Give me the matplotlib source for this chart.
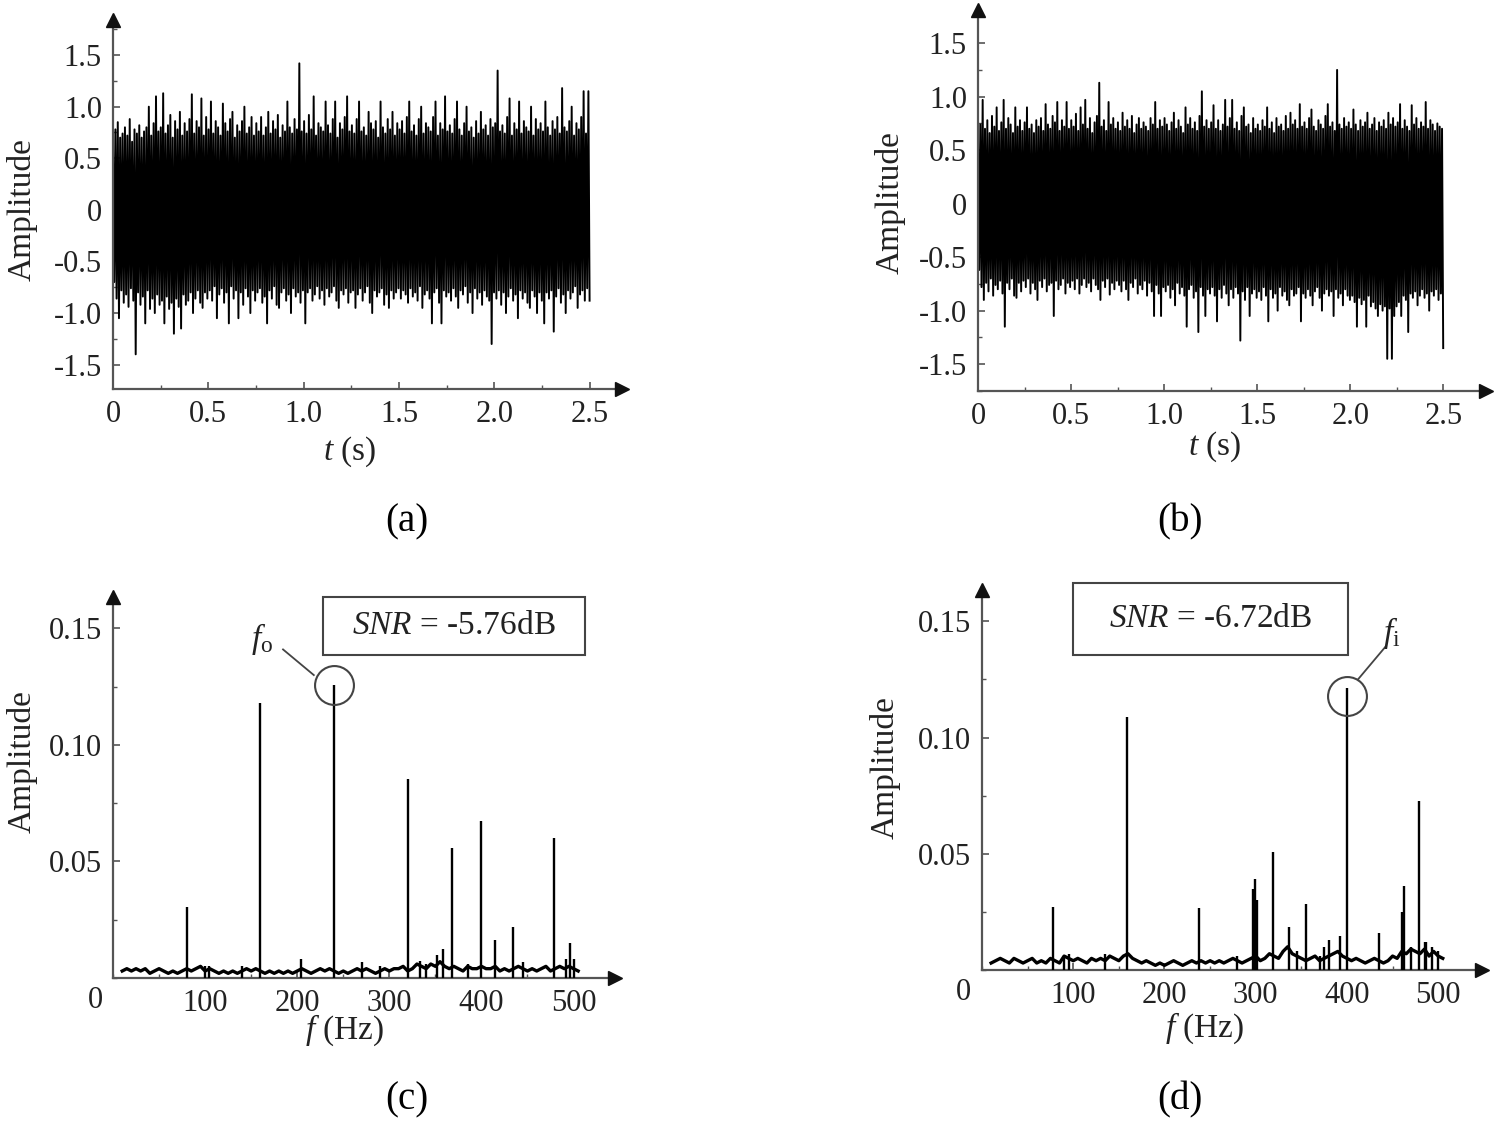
import numpy as np
import matplotlib
matplotlib.use("Agg")
import matplotlib.pyplot as plt
from matplotlib.ticker import FixedLocator, MultipleLocator
from matplotlib.patches import Rectangle

plt.rcParams['font.family'] = ['Liberation Serif', 'DejaVu Serif']
plt.rcParams['mathtext.fontset'] = 'custom'
plt.rcParams['mathtext.rm'] = 'Liberation Serif'
plt.rcParams['mathtext.it'] = 'Liberation Serif:italic'
plt.rcParams['axes.unicode_minus'] = False

# ---------------- data ----------------
# time-domain signal (a): upper and lower excursions per sample pair
sig_a_upper = [
    0.62, 0.78, 0.85, 0.70, 0.74, 0.80, 0.72, 0.88, 0.66, 0.78, 0.74, 0.82, 0.70, 0.76, 0.80, 1.00, 0.72, 0.84, 1.10, 0.76,
    0.80, 1.13, 0.74, 0.82, 0.92, 0.70, 0.86, 0.78, 0.95, 0.72, 0.84, 0.76, 0.88, 1.12, 0.74, 0.86, 0.80, 1.08, 0.72, 0.90,
    0.78, 1.05, 0.74, 0.86, 0.80, 0.72, 1.03, 0.84, 0.76, 0.88, 0.95, 0.70, 0.82, 0.76, 0.86, 1.00, 0.74, 0.80, 0.90, 0.72,
    0.84, 0.76, 0.90, 0.72, 0.80, 0.95, 0.74, 0.86, 0.78, 0.92, 0.70, 0.82, 0.76, 1.05, 0.80, 0.74, 0.88, 0.78, 1.42, 0.76,
    0.86, 0.74, 0.92, 0.78, 1.10, 0.72, 0.84, 0.80, 0.76, 1.05, 0.82, 0.74, 0.88, 1.05, 0.70, 0.84, 0.78, 0.90, 1.10, 0.76,
    0.82, 0.74, 0.88, 1.05, 0.76, 0.80, 0.72, 0.95, 0.84, 0.78, 0.86, 0.70, 1.05, 0.80, 0.74, 0.88, 0.78, 0.95, 0.72, 0.84,
    0.78, 0.86, 0.74, 0.90, 1.05, 0.76, 0.82, 0.72, 0.88, 1.00, 0.74, 0.84, 0.80, 0.76, 0.90, 1.05, 0.72, 0.84, 0.78, 1.10,
    0.76, 0.82, 0.74, 0.88, 1.05, 0.78, 0.72, 0.84, 1.00, 0.76, 0.80, 0.70, 0.86, 0.74, 0.95, 0.78, 0.82, 0.72, 0.88, 0.80,
    0.84, 1.35, 0.76, 0.82, 0.74, 0.90, 1.08, 0.72, 0.84, 0.78, 1.05, 0.74, 0.86, 0.80, 0.76, 1.00, 0.72, 0.88, 0.78, 0.84,
    0.76, 1.05, 0.80, 0.72, 0.86, 0.78, 0.90, 0.74, 1.18, 0.80, 0.76, 0.86, 1.00, 0.72, 0.84, 0.78, 0.90, 1.15, 0.74, 1.15,
]
sig_a_lower = [
    -0.70, -0.86, -1.05, -0.78, -0.90, -0.82, -0.94, -0.76, -0.88, -1.40, -0.80, -0.92, -0.84, -1.10, -0.78, -0.96, -0.86, -1.00, -0.82, -0.92,
    -0.88, -1.10, -0.84, -0.96, -0.90, -1.20, -0.86, -0.94, -1.15, -0.82, -0.92, -0.88, -0.80, -1.00, -0.86, -0.78, -0.90, -0.95, -0.80, -0.86,
    -0.78, -0.88, -0.74, -1.05, -0.82, -0.76, -0.90, -0.80, -1.10, -0.74, -0.86, -0.78, -1.05, -0.80, -0.92, -0.76, -0.84, -1.00, -0.78, -0.88,
    -0.80, -0.76, -0.90, -0.84, -1.10, -0.78, -0.86, -0.74, -0.92, -0.95, -0.80, -0.76, -0.88, -0.82, -1.00, -0.76, -0.84, -0.80, -0.90, -0.78,
    -1.10, -0.80, -0.76, -0.88, -0.82, -0.74, -0.86, -0.78, -0.92, -0.76, -0.84, -0.80, -0.74, -0.88, -0.95, -0.78, -0.82, -0.76, -0.90, -0.80,
    -0.78, -0.95, -0.82, -0.76, -0.88, -0.80, -0.74, -0.90, -1.00, -0.78, -0.84, -0.80, -0.76, -0.92, -0.82, -0.95, -0.78, -0.86, -0.80, -0.76,
    -0.86, -0.78, -0.82, -0.90, -0.76, -0.84, -0.80, -0.88, -0.74, -0.95, -0.82, -0.78, -0.86, -1.10, -0.80, -0.76, -0.90, -1.10, -0.78, -0.84,
    -0.80, -0.88, -0.76, -0.84, -0.95, -0.78, -0.82, -0.74, -0.90, -0.80, -1.00, -0.76, -0.86, -0.80, -0.92, -0.78, -0.84, -0.88, -1.30, -0.80,
    -0.86, -0.78, -0.92, -0.80, -1.00, -0.84, -0.76, -0.88, -0.82, -1.05, -0.78, -0.86, -0.80, -0.90, -0.95, -0.78, -0.84, -1.00, -0.80, -0.88,
    -1.10, -0.80, -0.86, -0.78, -1.18, -0.84, -0.76, -0.90, -0.82, -1.00, -0.78, -0.86, -0.80, -0.74, -0.95, -0.82, -0.78, -0.88, -0.76, -0.88,
]
# time-domain signal (b)
sig_b_upper = [
    0.62, 0.74, 0.97, 0.70, 0.78, 0.66, 0.82, 0.72, 0.90, 0.68, 0.76, 0.97, 0.70, 0.80, 0.74, 0.66, 0.90, 0.72, 0.78, 0.68,
    0.76, 0.90, 0.70, 0.74, 0.66, 0.78, 0.72, 0.80, 0.68, 0.93, 0.74, 0.70, 0.82, 0.76, 0.95, 0.68, 0.78, 0.72, 0.95, 0.70,
    0.78, 0.72, 0.84, 0.68, 0.90, 0.74, 0.97, 0.70, 0.80, 0.66, 0.76, 0.82, 1.13, 0.72, 0.78, 0.68, 0.95, 0.74, 0.80, 0.70,
    0.76, 0.68, 0.85, 0.72, 0.78, 0.70, 0.82, 0.66, 0.74, 0.80, 0.70, 0.76, 0.72, 0.68, 0.80, 0.74, 0.95, 0.70, 0.78, 0.72,
    0.80, 0.74, 0.68, 0.76, 0.85, 0.70, 0.78, 0.72, 0.66, 0.90, 0.74, 0.80, 0.70, 0.76, 0.68, 0.82, 1.05, 0.72, 0.78, 0.70,
    0.76, 0.92, 0.70, 0.78, 0.68, 0.74, 0.97, 0.72, 0.80, 0.97, 0.70, 0.76, 0.68, 0.82, 0.90, 0.72, 0.74, 0.66, 0.80, 0.70,
    0.74, 0.68, 0.78, 0.72, 0.90, 0.70, 0.76, 0.66, 0.80, 0.72, 0.74, 0.68, 0.82, 0.70, 0.85, 0.74, 0.78, 0.70, 0.93, 0.72,
    0.76, 0.70, 0.80, 0.88, 0.72, 0.68, 0.78, 0.74, 0.70, 0.82, 0.93, 0.72, 0.76, 0.68, 1.25, 0.74, 0.70, 0.80, 0.72, 0.76,
    0.70, 0.88, 0.74, 0.68, 0.78, 0.72, 0.76, 0.85, 0.70, 0.74, 0.80, 0.68, 0.76, 0.72, 0.78, 0.70, 0.85, 0.74, 0.80, 0.72,
    0.76, 0.93, 0.70, 0.78, 0.72, 0.68, 0.92, 0.74, 0.80, 0.70, 0.76, 0.72, 0.95, 0.70, 0.78, 0.74, 0.68, 0.75, 0.72, 0.70,
]
sig_b_lower = [
    -0.62, -0.78, -0.90, -0.74, -0.82, -0.70, -0.86, -0.76, -0.80, -0.72, -0.84, -1.15, -0.74, -0.80, -0.70, -0.86, -0.88, -0.74, -0.82, -0.72,
    -0.78, -0.70, -0.84, -0.74, -0.80, -0.90, -0.72, -0.78, -0.70, -0.82, -0.76, -0.74, -1.05, -0.72, -0.80, -0.76, -0.70, -0.84, -0.74, -0.78,
    -0.72, -0.80, -0.70, -0.84, -0.76, -0.70, -0.78, -0.74, -0.82, -0.70, -0.76, -0.80, -0.90, -0.72, -0.78, -0.70, -0.85, -0.74, -0.80, -0.72,
    -0.76, -0.82, -0.72, -0.80, -0.90, -0.74, -0.78, -0.70, -0.84, -0.76, -0.80, -0.72, -0.86, -0.74, -0.82, -1.05, -0.76, -0.84, -1.05, -0.78,
    -0.82, -0.76, -0.88, -0.80, -0.95, -0.74, -0.84, -0.78, -0.86, -1.15, -0.80, -0.76, -0.88, -0.82, -1.20, -0.78, -0.86, -1.05, -0.80, -0.84,
    -0.78, -0.86, -1.10, -0.80, -0.88, -0.76, -0.84, -0.95, -0.80, -0.88, -0.78, -0.84, -1.28, -0.82, -0.90, -0.78, -1.05, -0.84, -0.80, -0.88,
    -0.82, -0.90, -0.78, -0.86, -1.10, -0.80, -0.88, -0.84, -1.00, -0.78, -0.86, -0.82, -0.90, -0.95, -0.80, -0.86, -0.84, -0.78, -1.10, -0.84,
    -0.88, -0.80, -0.86, -0.95, -0.82, -0.78, -0.88, -1.00, -0.84, -0.80, -0.86, -0.82, -1.05, -0.80, -0.88, -0.84, -0.95, -0.80, -0.86, -0.90,
    -0.86, -0.92, -1.15, -0.88, -0.94, -0.90, -1.15, -0.86, -0.96, -0.92, -0.98, -1.05, -0.94, -1.00, -0.96, -1.45, -0.98, -1.45, -1.05, -0.96,
    -0.92, -1.05, -0.86, -0.90, -1.20, -0.84, -0.88, -0.82, -0.95, -0.86, -0.80, -0.88, -0.84, -1.00, -0.82, -0.86, -0.80, -0.90, -0.84, -1.35,
]

# spectrum (c): noise floor sampled every 5 Hz from 10 to 505 Hz
spec_c_base = [
    0.003, 0.004, 0.003, 0.004, 0.003, 0.004, 0.002, 0.003, 0.004, 0.003,
    0.002, 0.003, 0.002, 0.003, 0.004, 0.003, 0.004, 0.005, 0.003, 0.004,
    0.003, 0.002, 0.003, 0.002, 0.003, 0.002, 0.003, 0.004, 0.003, 0.004,
    0.003, 0.002, 0.003, 0.002, 0.003, 0.002, 0.003, 0.002, 0.003, 0.004,
    0.003, 0.002, 0.003, 0.004, 0.003, 0.004, 0.003, 0.002, 0.003, 0.002,
    0.003, 0.004, 0.003, 0.004, 0.003, 0.002, 0.003, 0.004, 0.003, 0.004,
    0.004, 0.005, 0.003, 0.004, 0.006, 0.005, 0.004, 0.006, 0.005, 0.007,
    0.005, 0.004, 0.005, 0.004, 0.003, 0.005, 0.004, 0.004, 0.005, 0.004,
    0.004, 0.005, 0.003, 0.004, 0.003, 0.004, 0.005, 0.004, 0.003, 0.004,
    0.003, 0.004, 0.005, 0.003, 0.004, 0.005, 0.004, 0.005, 0.004, 0.003,
]
peaks_c_freq = [80, 100, 104, 140, 160, 204, 240, 270, 290, 320, 333, 340, 352, 358,
                368, 385, 399, 415, 434, 445, 479, 492, 496, 500]
peaks_c_amp = [0.0306, 0.005, 0.005, 0.005, 0.118, 0.008, 0.1256, 0.007, 0.005, 0.0855,
               0.0075, 0.006, 0.010, 0.0124, 0.0556, 0.006, 0.0674, 0.0164, 0.0217, 0.007,
               0.060, 0.008, 0.0152, 0.008]

# spectrum (d)
spec_d_base = [
    0.003, 0.004, 0.005, 0.004, 0.003, 0.005, 0.004, 0.003, 0.004, 0.005,
    0.003, 0.004, 0.003, 0.005, 0.004, 0.003, 0.006, 0.005, 0.004, 0.005,
    0.004, 0.003, 0.005, 0.004, 0.005, 0.004, 0.006, 0.005, 0.004, 0.006,
    0.007, 0.005, 0.004, 0.003, 0.004, 0.003, 0.002, 0.003, 0.002, 0.003,
    0.004, 0.003, 0.002, 0.003, 0.004, 0.003, 0.004, 0.003, 0.004, 0.003,
    0.004, 0.003, 0.004, 0.005, 0.004, 0.003, 0.004, 0.005, 0.006, 0.004,
    0.005, 0.007, 0.006, 0.005, 0.008, 0.010, 0.007, 0.006, 0.005, 0.004,
    0.005, 0.006, 0.004, 0.005, 0.006, 0.007, 0.008, 0.006, 0.005, 0.004,
    0.005, 0.004, 0.003, 0.004, 0.005, 0.004, 0.003, 0.004, 0.006, 0.005,
    0.008, 0.007, 0.009, 0.008, 0.007, 0.009, 0.006, 0.008, 0.006, 0.005,
]
peaks_d_freq = [78, 90, 95, 135, 159, 238, 280, 297, 299, 301, 319, 336, 345, 355,
                370, 375, 380, 392, 400, 435, 460, 463, 470, 479, 485, 487, 493, 500]
peaks_d_amp = [0.0272, 0.006, 0.007, 0.007, 0.109, 0.0265, 0.006, 0.035, 0.039, 0.030,
               0.0507, 0.0186, 0.008, 0.0286, 0.006, 0.010, 0.0128, 0.0148, 0.1214,
               0.016, 0.025, 0.0362, 0.010, 0.0729, 0.012, 0.012, 0.010, 0.008]

t_ticks = [0, 0.5, 1.0, 1.5, 2.0, 2.5]
t_ticklabels = ['0', '0.5', '1.0', '1.5', '2.0', '2.5']
amp_ticks = [-1.5, -1.0, -0.5, 0, 0.5, 1.0, 1.5]
amp_ticklabels = ['-1.5', '-1.0', '-0.5', '0', '0.5', '1.0', '1.5']
f_ticks = [100, 200, 300, 400, 500]
f_ticklabels = ['100', '200', '300', '400', '500']
spec_ticks = [0.05, 0.10, 0.15]
spec_ticklabels = ['0.05', '0.10', '0.15']
snr_labels = ['-5.76dB', '-6.72dB']
panel_labels = ['(a)', '(b)', '(c)', '(d)']

# ---------------- figure ----------------
W, H = 1500, 1129
fig = plt.figure(figsize=(15, 11.29), dpi=100)
TXT = '#222222'
AX = '#555555'
FS = 22


def fx(px):
    return px / W


def fy(py):
    return 1 - py / H


def make_axes(l, r, t, b):
    return fig.add_axes([fx(l), fy(b), fx(r) - fx(l), fy(t) - fy(b)])


def style(ax):
    for s in ['top', 'right']:
        ax.spines[s].set_visible(False)
    for s in ['left', 'bottom']:
        ax.spines[s].set_color(AX)
        ax.spines[s].set_linewidth(1.6)
    ax.tick_params(which='both', direction='in', colors=AX, labelcolor=TXT,
                   labelsize=FS, top=False, right=False)
    ax.tick_params(which='major', length=5, width=1.2, pad=8)
    ax.tick_params(which='minor', length=3, width=1.0)
    ax.patch.set_alpha(0)
    ax.plot(1, 0, '>', color='#111111', ms=10, transform=ax.transAxes, clip_on=False, zorder=5)
    ax.plot(0, 1, '^', color='#111111', ms=10, transform=ax.transAxes, clip_on=False, zorder=5)


def time_panel(ax, upper, lower, xmax, ylim):
    n = len(upper)
    sig = np.empty(2 * n)
    sig[0::2] = upper
    sig[1::2] = lower
    t = np.linspace(0, 2.5, 2 * n)
    ax.plot(t, sig, color='black', lw=1.4)
    ax.set_xlim(0, xmax)
    ax.set_ylim(*ylim)
    ax.xaxis.set_major_locator(FixedLocator(t_ticks))
    ax.set_xticklabels(t_ticklabels)
    ax.xaxis.set_minor_locator(MultipleLocator(0.25))
    ax.yaxis.set_major_locator(FixedLocator(amp_ticks))
    ax.set_yticklabels(amp_ticklabels)
    ax.yaxis.set_minor_locator(MultipleLocator(0.25))
    style(ax)


def spec_panel(ax, base, pf, pa, xmax):
    fb = np.arange(10, 10 + 5 * len(base), 5)
    ax.plot(fb, base, color='black', lw=2.4, zorder=3)
    ax.vlines(pf, 0, pa, color='black', lw=1.7, zorder=3)
    ax.set_xlim(0, xmax)
    ax.set_ylim(0, 0.1635)
    ax.xaxis.set_major_locator(FixedLocator(f_ticks))
    ax.set_xticklabels(f_ticklabels)
    ax.xaxis.set_minor_locator(MultipleLocator(50))
    ax.yaxis.set_major_locator(FixedLocator(spec_ticks))
    ax.set_yticklabels(spec_ticklabels)
    ax.yaxis.set_minor_locator(MultipleLocator(0.025))
    style(ax)


ax_a = make_axes(113, 622, 20, 389)
time_panel(ax_a, sig_a_upper, sig_a_lower, 2.67, (-1.736, 1.84))
ax_b = make_axes(978, 1486, 10, 391)
time_panel(ax_b, sig_b_upper, sig_b_lower, 2.73, (-1.751, 1.81))
ax_c = make_axes(113, 615, 597, 978)
spec_panel(ax_c, spec_c_base, peaks_c_freq, peaks_c_amp, 545)
ax_d = make_axes(982, 1482, 590, 970)
spec_panel(ax_d, spec_d_base, peaks_d_freq, peaks_d_amp, 548)

# axis labels (figure coords)
for x, y in [(22, 210), (890, 203), (22, 762), (885, 768)]:
    fig.text(fx(x), fy(y), 'Amplitude', rotation=90, ha='center', va='center',
             fontsize=24, color=TXT)
for x, y in [(350, 452), (1215, 447)]:
    fig.text(fx(x), fy(y), '$t$ (s)', ha='center', va='center', fontsize=24, color=TXT)
for x, y in [(345, 1030), (1205, 1028)]:
    fig.text(fx(x), fy(y), '$f$ (Hz)', ha='center', va='center', fontsize=24, color=TXT)
for x, y in [(95, 1000), (963, 993)]:
    fig.text(fx(x), fy(y), '0', ha='center', va='center', fontsize=FS, color=TXT)

# panel labels
for (x, y), lab in zip([(407, 522), (1180, 522), (407, 1100), (1180, 1100)], panel_labels):
    fig.text(fx(x), fy(y), lab, ha='center', va='center', fontsize=28, color='black')

# SNR boxes
for (l, r, t, b), lab in zip([(323, 585, 597, 655), (1073, 1348, 583, 655)], snr_labels):
    fig.patches.append(Rectangle((fx(l), fy(b)), fx(r) - fx(l), fy(t) - fy(b),
                                 transform=fig.transFigure, fill=False,
                                 edgecolor='#444444', lw=1.5))
    fig.text((fx(l) + fx(r)) / 2, (fy(t) + fy(b)) / 2, '$SNR$ = ' + lab,
             ha='center', va='center', fontsize=24, color=TXT)

# fault-frequency annotations
ax_c.plot(240, 0.1256, 'o', ms=28, mfc='none', mec='#444444', mew=1.5, clip_on=False, zorder=4)
ax_c.plot([184.6, 218], [0.141, 0.130], color='#444444', lw=1.3)
ax_c.text(161.8, 0.1453, r'$f_\mathrm{o}$', ha='center', va='center', fontsize=24, color=TXT)

ax_d.plot(400, 0.118, 'o', ms=28, mfc='none', mec='#444444', mew=1.5, clip_on=False, zorder=4)
ax_d.plot([412, 442], [0.125, 0.139], color='#444444', lw=1.3)
ax_d.text(449.5, 0.145, r'$f_\mathrm{i}$', ha='center', va='center', fontsize=24, color=TXT)

fig.savefig('out.png', dpi=100)
